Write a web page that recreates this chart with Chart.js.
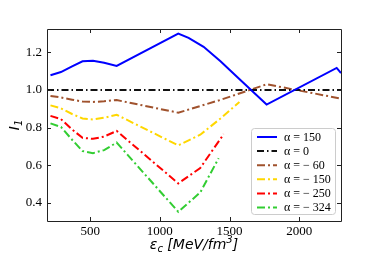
<!DOCTYPE html>
<html>
<head>
<meta charset="utf-8">
<script src="https://cdn.jsdelivr.net/npm/chart.js@4/dist/chart.umd.min.js"></script>
<style>
  body { margin: 0; background: #fff; }
  canvas { display: block; }
</style>
</head>
<body>
<canvas id="chart" width="379" height="253"></canvas>
<script>
// values
const xTicks = [500, 1000, 1500, 2000];
const yTicks = [0.4, 0.6, 0.8, 1.0, 1.2];

const blueX = [215, 290, 370, 445, 520, 600, 690, 1132, 1206, 1314, 1435, 1555, 1766, 2269, 2300];
const blueY = [1.078, 1.095, 1.125, 1.152, 1.155, 1.145, 1.128, 1.300, 1.277, 1.229, 1.152, 1.069, 0.922, 1.117, 1.090];

const zeroX = [190, 2300];
const zeroY = [1.0, 1.0];

const m60X = [215, 290, 370, 445, 520, 600, 690, 1132, 1435, 1766, 2300];
const m60Y = [0.968, 0.960, 0.948, 0.938, 0.936, 0.940, 0.946, 0.879, 0.947, 1.030, 0.954];

const m150X = [215, 290, 370, 445, 520, 600, 690, 1132, 1290, 1435, 1571];
const m150Y = [0.918, 0.902, 0.872, 0.848, 0.843, 0.852, 0.868, 0.705, 0.762, 0.848, 0.936];

const m250X = [215, 290, 370, 445, 520, 600, 690, 1132, 1290, 1458];
const m250Y = [0.862, 0.845, 0.790, 0.745, 0.740, 0.752, 0.782, 0.503, 0.585, 0.765];

const m324X = [215, 290, 370, 445, 520, 600, 690, 1132, 1290, 1422];
const m324Y = [0.822, 0.803, 0.735, 0.675, 0.664, 0.680, 0.720, 0.352, 0.455, 0.637];

const pts = (xs, ys) => xs.map((x, i) => ({ x: x, y: ys[i] }));

const mk = (label, xs, ys, color, dash) => ({
    label: label,
    data: pts(xs, ys),
    borderColor: color,
    borderWidth: 2,
    borderDash: dash,
    pointRadius: 0,
    tension: 0,
    fill: false
});

const datasets = [
    mk('α = 150', blueX, blueY, '#0000ff', []),
    mk('α = 0', zeroX, zeroY, '#111111', [7, 3, 1.5, 3]),
    mk('α = − 60', m60X, m60Y, '#a0522d', [8, 3, 2, 3]),
    mk('α = − 150', m150X, m150Y, '#ffd700', [8, 3, 2, 3]),
    mk('α = − 250', m250X, m250Y, '#ff0000', [8, 3, 2, 3]),
    mk('α = − 324', m324X, m324Y, '#32cd32', [8, 3, 2, 3])
];

// frame with inward ticks, axis titles and the boxed legend
const overlayPlugin = {
    id: 'overlay',
    afterDatasetsDraw(chart) {
        const ctx = chart.ctx;
        const a = chart.chartArea;
        const xs = chart.scales.x, ys = chart.scales.y;
        ctx.save();
        ctx.setLineDash([]);
        ctx.globalAlpha = 1;
        ctx.strokeStyle = '#222222';
        ctx.lineWidth = 1;
        ctx.beginPath();
        xTicks.forEach(v => {
            const px = Math.round(xs.getPixelForValue(v)) + 0.5;
            ctx.moveTo(px, a.bottom); ctx.lineTo(px, a.bottom - 4);
            ctx.moveTo(px, a.top); ctx.lineTo(px, a.top + 4);
        });
        yTicks.forEach(v => {
            const py = Math.round(ys.getPixelForValue(v)) + 0.5;
            ctx.moveTo(a.left, py); ctx.lineTo(a.left + 4, py);
            ctx.moveTo(a.right, py); ctx.lineTo(a.right - 4, py);
        });
        ctx.stroke();
        ctx.beginPath();
        ctx.rect(Math.round(a.left) + 0.5, Math.round(a.top) + 0.5,
            Math.round(a.right - a.left), Math.round(a.bottom - a.top));
        ctx.stroke();

        // legend
        const left = 251, top = 128, w = 84, h = 86;
        ctx.fillStyle = 'rgba(255,255,255,0.85)';
        ctx.strokeStyle = '#cccccc';
        ctx.beginPath();
        ctx.roundRect(left + 0.5, top + 0.5, w, h, 3);
        ctx.fill();
        ctx.stroke();
        ctx.font = '12px "Liberation Serif"';
        ctx.textBaseline = 'middle';
        chart.data.datasets.forEach((ds, i) => {
            const y = top + 9 + i * 14.1;
            ctx.strokeStyle = ds.borderColor;
            ctx.lineWidth = 2;
            ctx.setLineDash(ds.borderDash);
            ctx.beginPath();
            ctx.moveTo(left + 6, y);
            ctx.lineTo(left + 26, y);
            ctx.stroke();
            ctx.setLineDash([]);
            ctx.fillStyle = '#000';
            ctx.fillText(ds.label, left + 33, y + 0.5);
        });

        // axis titles
        ctx.fillStyle = '#000';
        ctx.textBaseline = 'alphabetic';
        const big = 'italic 14px "DejaVu Sans"';
        const small = 'italic 10px "DejaVu Sans"';
        const parts = [
            ['ε', big, 0], ['c', small, 3], [' [MeV/fm', big, 0], ['3', small, -6], [']', big, 0]
        ];
        let w2 = 0;
        parts.forEach(p => { ctx.font = p[1]; w2 += ctx.measureText(p[0]).width; });
        let tx = (a.left + a.right) / 2 - w2 / 2;
        parts.forEach(p => {
            ctx.font = p[1];
            ctx.fillText(p[0], tx, 249 + p[2]);
            tx += ctx.measureText(p[0]).width;
        });

        ctx.translate(19, (a.top + a.bottom) / 2);
        ctx.rotate(-Math.PI / 2);
        ctx.font = big;
        const iw = ctx.measureText('I').width;
        ctx.font = small;
        const sw = ctx.measureText('1').width;
        const ix = -(iw + sw) / 2;
        ctx.font = big;
        ctx.fillText('I', ix, 0);
        ctx.font = small;
        ctx.fillText('1', ix + iw, 3);
        ctx.restore();
    }
};

const config = {
    type: 'line',
    data: { datasets: datasets },
    options: {
        responsive: false,
        animation: false,
        layout: { padding: { top: 29, right: 38, left: 0, bottom: 0 } },
        plugins: {
            legend: { display: false },
            tooltip: { enabled: false }
        },
        scales: {
            x: {
                type: 'linear',
                min: 190,
                max: 2300,
                afterBuildTicks: (s) => { s.ticks = xTicks.map(v => ({ value: v })); },
                afterFit: (s) => { s.height = 32; },
                grid: { display: false, drawTicks: false },
                border: { display: false },
                ticks: {
                    color: '#000',
                    padding: 3,
                    maxRotation: 0,
                    callback: (v) => String(v),
                    font: { family: '"Liberation Serif"', size: 13 }
                }
            },
            y: {
                type: 'linear',
                min: 0.303,
                max: 1.324,
                afterBuildTicks: (s) => { s.ticks = yTicks.map(v => ({ value: v })); },
                afterFit: (s) => { s.width = 47; },
                grid: { display: false, drawTicks: false },
                border: { display: false },
                ticks: {
                    color: '#000',
                    padding: 5,
                    callback: (v) => v.toFixed(1),
                    font: { family: '"Liberation Serif"', size: 13 }
                }
            }
        }
    },
    plugins: [overlayPlugin]
};

var ctx_chart = document.getElementById("chart");
var chart = new Chart(ctx_chart, config);
</script>
</body>
</html>
